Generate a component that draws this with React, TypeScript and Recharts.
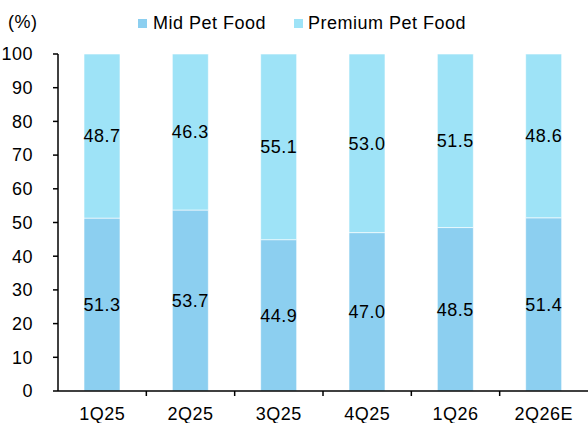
import { BarChart, Bar, XAxis, YAxis, LabelList } from 'recharts'

const quarters = ['1Q25', '2Q25', '3Q25', '4Q25', '1Q26', '2Q26E']
const midShare = [51.3, 53.7, 44.9, 47.0, 48.5, 51.4]
const premiumShare = [48.7, 46.3, 55.1, 53.0, 51.5, 48.6]
const yTicks = [0, 10, 20, 30, 40, 50, 60, 70, 80, 90, 100]
const seriesNames = ['Mid Pet Food', 'Premium Pet Food']

const MID = '#8ccff0'
const PREMIUM = '#9ee3f7'
const FONT = "'Liberation Sans', Arial, sans-serif"

const W = 588
const H = 423
const LEFT = 58
const BAND = (W - LEFT) / quarters.length

const data = quarters.map((q, i) => ({
  quarter: q,
  mid: midShare[i],
  premium: premiumShare[i],
}))

function QuarterTick(props: any) {
  const { x, y, payload } = props
  const edge = x - BAND / 2
  return (
    <g>
      {edge > LEFT + 2 && (
        <line x1={edge} y1={y} x2={edge} y2={y + 5} stroke="#000" strokeWidth={1.5} />
      )}
      <text
        x={x}
        y={y + 29}
        textAnchor="middle"
        fontSize={18}
        fontFamily={FONT}
        letterSpacing={0.5}
        fill="#000"
      >
        {payload.value}
      </text>
    </g>
  )
}

const fmt = (v: any) => Number(v).toFixed(1)

export default function App() {
  return (
    <div style={{ position: 'absolute', left: 0, top: 0, width: W, height: H, background: '#fff', fontFamily: FONT }}>
      <div style={{ position: 'absolute', left: 8, top: 10, fontSize: 18, letterSpacing: 0.5, lineHeight: '24px' }}>(%)</div>
      <div style={{ position: 'absolute', left: 138, top: 11, display: 'flex', alignItems: 'center', fontSize: 18, letterSpacing: 0.5, lineHeight: '24px' }}>
        <span style={{ width: 9, height: 9, background: MID, marginRight: 6, display: 'inline-block' }} />
        <span style={{ marginRight: 28 }}>{seriesNames[0]}</span>
        <span style={{ width: 9, height: 9, background: PREMIUM, marginRight: 5, display: 'inline-block' }} />
        <span>{seriesNames[1]}</span>
      </div>
      <div style={{ position: 'absolute', left: 0, top: 0 }}>
        <BarChart
          width={W}
          height={H}
          data={data}
          margin={{ top: 54, right: 0, left: 0, bottom: 0 }}
          barSize={36}
        >
          <XAxis
            dataKey="quarter"
            height={32}
            axisLine={{ stroke: '#000', strokeWidth: 1.5 }}
            tickLine={false}
            tickSize={0}
            tickMargin={0}
            tick={<QuarterTick />}
            interval={0}
          />
          <YAxis
            width={LEFT}
            domain={[0, 100]}
            ticks={yTicks}
            interval={0}
            axisLine={{ stroke: '#000', strokeWidth: 1.5 }}
            tickLine={{ stroke: '#000', strokeWidth: 1.5 }}
            tickSize={5}
            tickMargin={20}
            tick={{ fill: '#000', fontSize: 18, fontFamily: FONT, letterSpacing: 0.5 }}
          />
          <Bar dataKey="mid" name={seriesNames[0]} stackId="a" fill={MID} stroke="#fff" strokeWidth={0.6} isAnimationActive={false}>
            <LabelList dataKey="mid" position="center" formatter={fmt} fill="#000" fontSize={18} fontFamily={FONT} letterSpacing={0.5} />
          </Bar>
          <Bar dataKey="premium" name={seriesNames[1]} stackId="a" fill={PREMIUM} stroke="#fff" strokeWidth={0.6} isAnimationActive={false}>
            <LabelList dataKey="premium" position="center" formatter={fmt} fill="#000" fontSize={18} fontFamily={FONT} letterSpacing={0.5} />
          </Bar>
        </BarChart>
      </div>
    </div>
  )
}
